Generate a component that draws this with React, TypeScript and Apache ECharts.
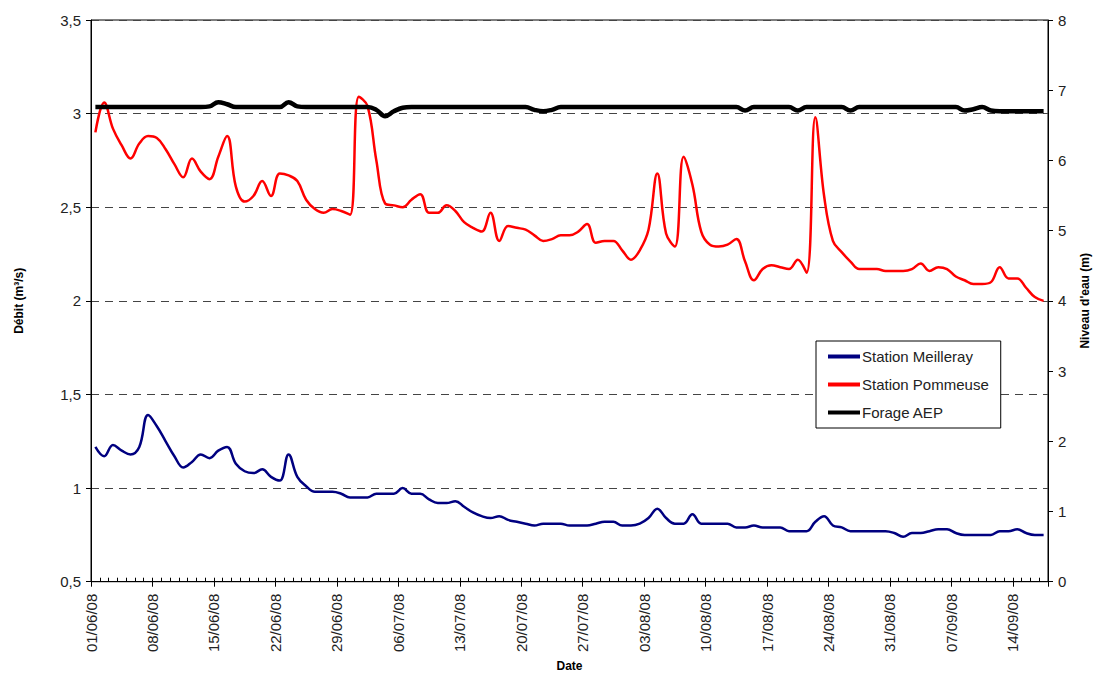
import React, { useEffect, useRef } from "react";
import * as echarts from "echarts";

// Weekly tick labels of the date axis (axis spans 01/06/08 .. 18/09/08, 109 days)
const tickLabels = [
  "01/06/08", "08/06/08", "15/06/08", "22/06/08", "29/06/08", "06/07/08",
  "13/07/08", "20/07/08", "27/07/08", "03/08/08", "10/08/08", "17/08/08",
  "24/08/08", "31/08/08", "07/09/08", "14/09/08",
];
const axisDays = 109;
// daily measurements taken at midday
const sampleOffset = 0.5;

// Station Meilleray – débit (m3/s), one value per day from 01/06/08
const meilleray = [
  1.22, 1.17, 1.23, 1.20, 1.18, 1.22, 1.39, 1.33, 1.25, 1.17,
  1.11, 1.14, 1.18, 1.16, 1.20, 1.22, 1.13, 1.09, 1.08, 1.10,
  1.06, 1.04, 1.18, 1.06, 1.01, 0.98, 0.98, 0.98, 0.97, 0.95,
  0.95, 0.95, 0.97, 0.97, 0.97, 1.00, 0.97, 0.97, 0.94, 0.92,
  0.92, 0.93, 0.90, 0.87, 0.85, 0.84, 0.85, 0.83, 0.82, 0.81,
  0.80, 0.81, 0.81, 0.81, 0.80, 0.80, 0.80, 0.81, 0.82, 0.82,
  0.80, 0.80, 0.81, 0.84, 0.89, 0.84, 0.81, 0.81, 0.86, 0.81,
  0.81, 0.81, 0.81, 0.79, 0.79, 0.80, 0.79, 0.79, 0.79, 0.77,
  0.77, 0.77, 0.82, 0.85, 0.80, 0.79, 0.77, 0.77, 0.77, 0.77,
  0.77, 0.76, 0.74, 0.76, 0.76, 0.77, 0.78, 0.78, 0.76, 0.75,
  0.75, 0.75, 0.75, 0.77, 0.77, 0.78, 0.76, 0.75, 0.75,
];

// Station Pommeuse – débit (m3/s)
const pommeuse = [
  2.90, 3.06, 2.92, 2.83, 2.76, 2.84, 2.88, 2.87, 2.81, 2.73,
  2.66, 2.76, 2.69, 2.65, 2.77, 2.88, 2.61, 2.53, 2.56, 2.64,
  2.56, 2.68, 2.67, 2.64, 2.54, 2.49, 2.47, 2.49, 2.48, 2.46,
  3.09, 3.04, 2.75, 2.52, 2.51, 2.50, 2.54, 2.57, 2.47, 2.47,
  2.51, 2.48, 2.42, 2.39, 2.37, 2.47, 2.32, 2.40, 2.39, 2.38,
  2.35, 2.32, 2.33, 2.35, 2.35, 2.37, 2.41, 2.31, 2.32, 2.32,
  2.27, 2.22, 2.27, 2.38, 2.68, 2.36, 2.29, 2.77, 2.62, 2.37,
  2.30, 2.29, 2.30, 2.33, 2.21, 2.11, 2.17, 2.19, 2.18, 2.17,
  2.22, 2.15, 2.98, 2.56, 2.32, 2.26, 2.21, 2.17, 2.17, 2.17,
  2.16, 2.16, 2.16, 2.17, 2.20, 2.16, 2.18, 2.17, 2.13, 2.11,
  2.09, 2.09, 2.10, 2.18, 2.12, 2.12, 2.07, 2.02, 2.00,
];

// Forage AEP – niveau d'eau (m)
const forage = [
  6.76, 6.76, 6.76, 6.76, 6.76, 6.76, 6.76, 6.76, 6.76, 6.76,
  6.76, 6.76, 6.76, 6.77, 6.83, 6.80, 6.76, 6.76, 6.76, 6.76,
  6.76, 6.76, 6.83, 6.77, 6.76, 6.76, 6.76, 6.76, 6.76, 6.76,
  6.76, 6.76, 6.72, 6.63, 6.70, 6.75, 6.76, 6.76, 6.76, 6.76,
  6.76, 6.76, 6.76, 6.76, 6.76, 6.76, 6.76, 6.76, 6.76, 6.76,
  6.72, 6.70, 6.72, 6.76, 6.76, 6.76, 6.76, 6.76, 6.76, 6.76,
  6.76, 6.76, 6.76, 6.76, 6.76, 6.76, 6.76, 6.76, 6.76, 6.76,
  6.76, 6.76, 6.76, 6.76, 6.71, 6.76, 6.76, 6.76, 6.76, 6.76,
  6.71, 6.76, 6.76, 6.76, 6.76, 6.76, 6.71, 6.76, 6.76, 6.76,
  6.76, 6.76, 6.76, 6.76, 6.76, 6.76, 6.76, 6.76, 6.76, 6.71,
  6.73, 6.76, 6.71, 6.70, 6.70, 6.70, 6.70, 6.70, 6.70,
];

const FONT = "'Liberation Sans', Arial, sans-serif";

const toPoints = (vals: number[]) => vals.map((v, i) => [i + sampleOffset, v]);

export default function App() {
  const ref = useRef<HTMLDivElement>(null);

  useEffect(() => {
    if (!ref.current) return;
    const chart = echarts.init(ref.current, null, { renderer: "svg" });
    const option: any = {
      animation: false,
      backgroundColor: "#ffffff",
      textStyle: { fontFamily: FONT },
      grid: {
        left: 91,
        right: 41,
        top: 20,
        bottom: 92,
        show: true,
        borderColor: "#000",
        borderWidth: 1,
        backgroundColor: "transparent",
      },
      legend: {
        orient: "vertical",
        left: 816,
        top: 341,
        data: ["Station Meilleray", "Station Pommeuse", "Forage AEP"],
        icon: "rect",
        itemWidth: 32,
        itemHeight: 4,
        itemGap: 13,
        padding: [8, 12, 8, 12],
        borderColor: "#000",
        borderWidth: 1,
        backgroundColor: "#fff",
        textStyle: { fontSize: 15, color: "#222", fontFamily: FONT, padding: [0, 0, 0, -3] },
      },
      xAxis: [
        {
          type: "value",
          min: 0,
          max: axisDays,
          interval: 7,
          position: "bottom",
          name: "Date",
          nameLocation: "middle",
          nameGap: 78,
          nameTextStyle: { fontWeight: "bold", fontSize: 12, color: "#000", fontFamily: FONT },
          axisLine: { show: true, onZero: false, lineStyle: { color: "#000", width: 1 } },
          axisTick: { show: true, length: 5, lineStyle: { color: "#000" } },
          axisLabel: {
            rotate: 90,
            margin: 12,
            fontSize: 15,
            color: "#222",
            fontFamily: FONT,
            formatter: (v: number) => (v % 7 === 0 && tickLabels[v / 7] ? tickLabels[v / 7] : ""),
          },
          splitLine: { show: false },
        },
        {
          type: "value",
          min: 0,
          max: axisDays,
          interval: 1,
          position: "bottom",
          axisLine: { show: false },
          axisTick: { show: true, inside: true, length: 4, lineStyle: { color: "#000" } },
          axisLabel: { show: false },
          splitLine: { show: false },
        },
      ],
      yAxis: [
        {
          type: "value",
          min: 0.5,
          max: 3.5,
          interval: 0.5,
          position: "left",
          name: "Débit (m³/s)",
          nameLocation: "middle",
          nameRotate: 90,
          nameGap: 66,
          nameTextStyle: { fontWeight: "bold", fontSize: 12, color: "#000", fontFamily: FONT },
          axisLine: { show: true, onZero: false, lineStyle: { color: "#000" } },
          axisTick: { show: true, length: 5, lineStyle: { color: "#000" } },
          axisLabel: {
            margin: 10,
            fontSize: 15,
            color: "#222",
            fontFamily: FONT,
            formatter: (v: number) => String(v).replace(".", ","),
          },
          splitLine: { show: true, lineStyle: { type: [8, 6], color: "#444", width: 1 } },
        },
        {
          type: "value",
          min: 0,
          max: 8,
          interval: 1,
          position: "right",
          name: "Niveau d'eau (m)",
          nameLocation: "middle",
          nameRotate: 90,
          nameGap: 31,
          nameTextStyle: { fontWeight: "bold", fontSize: 12, color: "#000", fontFamily: FONT },
          axisLine: { show: true, onZero: false, lineStyle: { color: "#000" } },
          axisTick: { show: true, length: 5, lineStyle: { color: "#000" } },
          axisLabel: { margin: 10, fontSize: 15, color: "#222", fontFamily: FONT },
          splitLine: { show: false },
        },
      ],
      series: [
        {
          name: "Station Meilleray",
          type: "line",
          xAxisIndex: 0,
          yAxisIndex: 0,
          data: toPoints(meilleray),
          smooth: 0.4,
          showSymbol: false,
          color: "#000080",
          lineStyle: { color: "#000080", width: 2.5 },
        },
        {
          name: "Station Pommeuse",
          type: "line",
          xAxisIndex: 0,
          yAxisIndex: 0,
          data: toPoints(pommeuse),
          smooth: 0.4,
          showSymbol: false,
          color: "#ff0000",
          lineStyle: { color: "#ff0000", width: 2.5 },
        },
        {
          name: "Forage AEP",
          type: "line",
          xAxisIndex: 0,
          yAxisIndex: 1,
          data: toPoints(forage),
          smooth: 0.4,
          showSymbol: false,
          color: "#000000",
          lineStyle: { color: "#000000", width: 4.5 },
        },
      ],
    };
    chart.setOption(option);
    return () => chart.dispose();
  }, []);

  return (
    <div
      ref={ref}
      style={{ position: "absolute", left: 0, top: 0, width: 1099, height: 677, background: "#fff" }}
    />
  );
}
